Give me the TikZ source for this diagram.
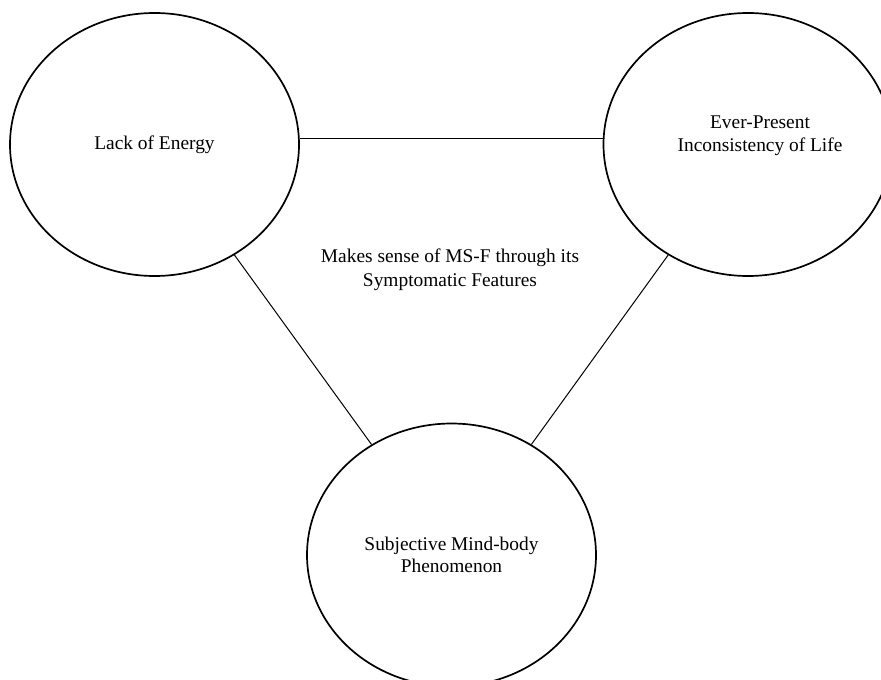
\documentclass[tikz,border=0pt]{standalone}
\usepackage{fontspec}
\setmainfont{Liberation Serif}
\usetikzlibrary{shapes.geometric}
\tikzset{
	bubble/.style={draw,ellipse,align=center,line width=0.85pt,minimum width=144.5pt,minimum height=131.5pt,inner sep=0pt},
	link/.style={line width=0.5pt},
	every node/.style={font=\fontsize{9.7}{11.3}\selectfont}
}

\begin{document}
\begin{tikzpicture}[x=0.5pt,y=-0.5pt]
			\path[use as bounding box,clip] (0,0) rectangle (881,679);
			\node[bubble] (energy) at (154.5,144.5) {\raisebox{1.5pt}{Lack of Energy}};
			\node[bubble,label={[align=center,xshift=6pt,yshift=4.5pt]center:{Ever-Present\\Inconsistency of Life}}] (life) at (748,144.5) {};
			\node[bubble] (mind) at (451.5,555) {Subjective Mind-body\\Phenomenon};
			\node[align=center,font=\fontsize{9.7}{12}\selectfont] (sense) at (450,270) {Makes sense of MS-F through its\\Symptomatic Features};
			
			\draw[link] ([yshift=2.75pt]energy.east) -- ([yshift=2.75pt]life.west);
			\draw[link] (energy) -- (mind);
			\draw[link] (life) -- (mind);
		\end{tikzpicture}
\end{document}
